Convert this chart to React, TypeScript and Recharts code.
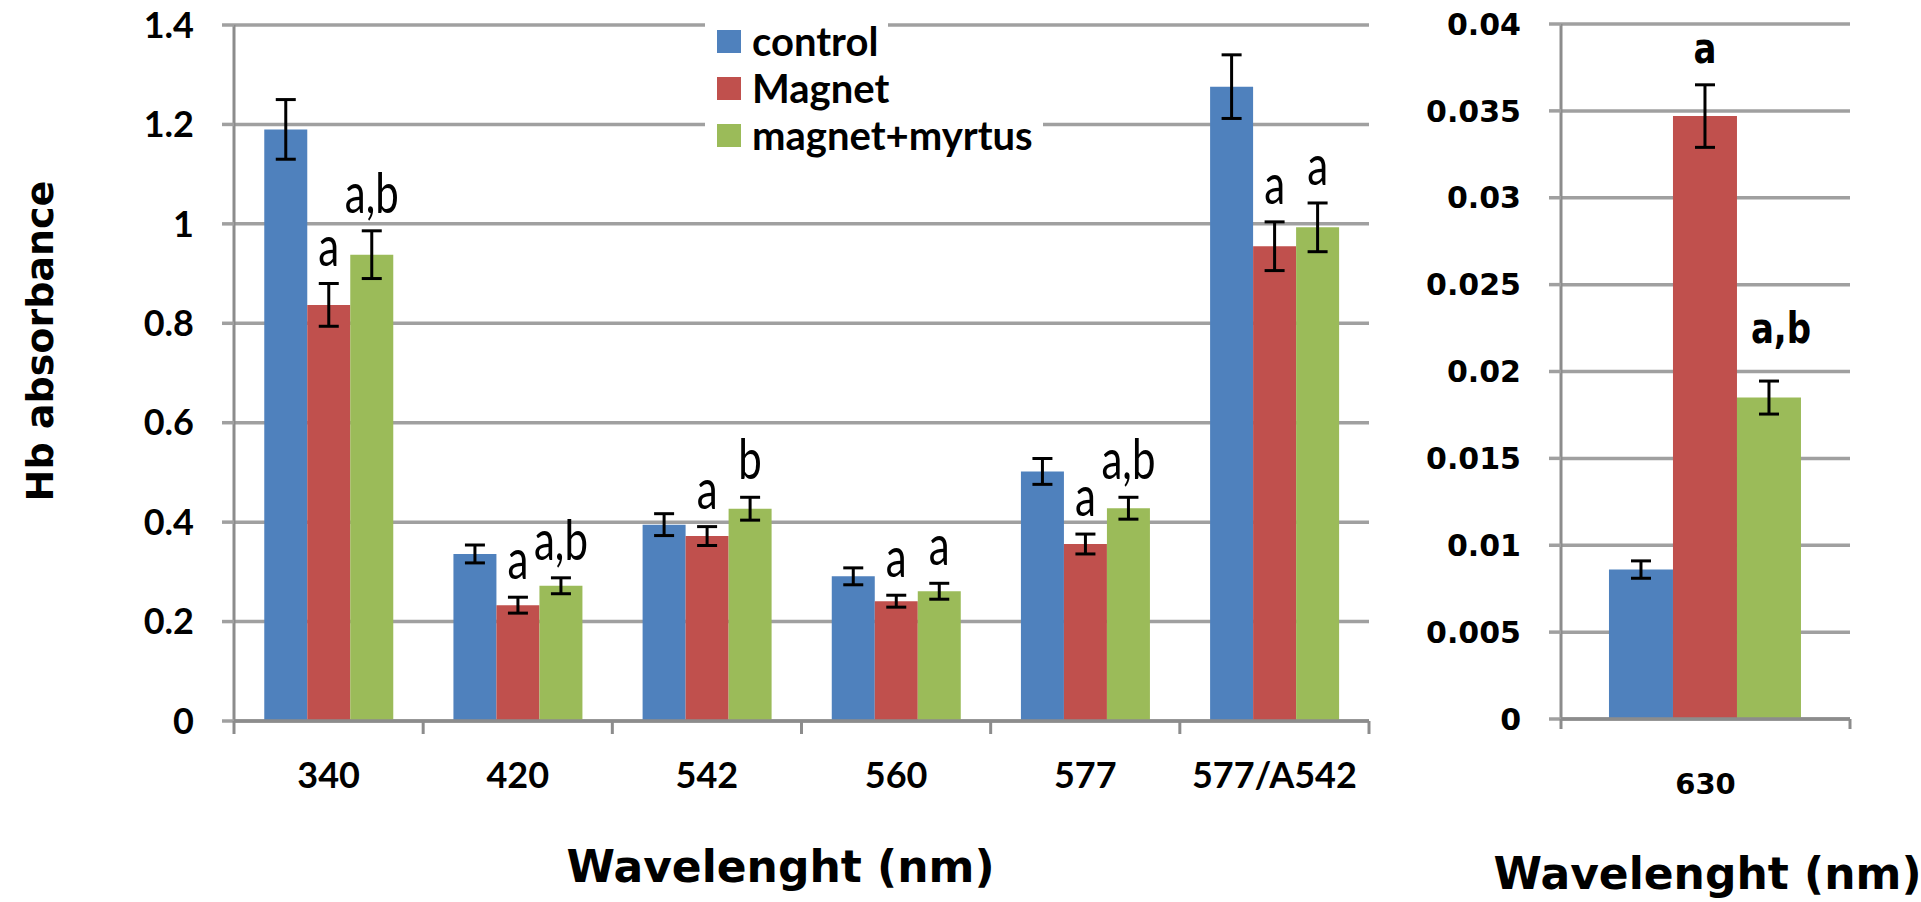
import React from "react";
import {
  Bar,
  BarChart,
  CartesianGrid,
  ErrorBar,
  Legend,
  XAxis,
  YAxis,
} from "recharts";

// ---- data: main panel ----
const categories = ["340", "420", "542", "560", "577", "577/A542"];
const control = [1.19, 0.336, 0.395, 0.291, 0.502, 1.276];
const controlErr = [0.06, 0.018, 0.022, 0.017, 0.026, 0.064];
const magnet = [0.837, 0.233, 0.372, 0.241, 0.356, 0.955];
const magnetErr = [0.043, 0.016, 0.019, 0.012, 0.02, 0.049];
const myrtus = [0.938, 0.272, 0.427, 0.261, 0.428, 0.993];
const myrtusErr = [0.048, 0.016, 0.023, 0.016, 0.022, 0.049];
const magnetSig = ["a", "a", "a", "a", "a", "a"];
const myrtusSig = ["a,b", "a,b", "b", "a", "a,b", "a"];
const leftTicks = [0, 0.2, 0.4, 0.6, 0.8, 1, 1.2, 1.4];
const leftTickLabels = ["0", "0.2", "0.4", "0.6", "0.8", "1", "1.2", "1.4"];

// ---- data: 630 nm panel ----
const categories630 = ["630"];
const control630 = [0.0086];
const control630Err = [0.0005];
const magnet630 = [0.0347];
const magnet630Err = [0.0018];
const myrtus630 = [0.0185];
const myrtus630Err = [0.00095];
const magnet630Sig = ["a"];
const myrtus630Sig = ["a,b"];
const rightTicks = [0, 0.005, 0.01, 0.015, 0.02, 0.025, 0.03, 0.035, 0.04];
const rightTickLabels = ["0", "0.005", "0.01", "0.015", "0.02", "0.025", "0.03", "0.035", "0.04"];

const SERIES = ["control", "Magnet", "magnet+myrtus"];
const BLUE = "#4F81BD";
const RED = "#C0504D";
const GREEN = "#9BBB59";
const GRID = "#a0a0a0";
const AXIS = "#8c8c8c";
const CAL = "Lato, 'Open Sans', sans-serif";
const VER = "'DejaVu Sans', Verdana, sans-serif";

const H = 902;
const LEFT_W = 1400;
const LEFT_MARGIN = { top: 25, right: 31, bottom: 0, left: 0 };
const LEFT_Y_W = 234;
const LEFT_X_H = 181;
const RIGHT_W = 521;
const RIGHT_MARGIN = { top: 24, right: 71, bottom: 0, left: 0 };
const RIGHT_Y_W = 161;
const RIGHT_X_H = 183;

const leftData = categories.map((c, i) => ({
  name: c,
  control: control[i],
  controlErr: controlErr[i],
  magnet: magnet[i],
  magnetErr: magnetErr[i],
  myrtus: myrtus[i],
  myrtusErr: myrtusErr[i],
}));

const rightData = categories630.map((c, i) => ({
  name: c,
  control: control630[i],
  controlErr: control630Err[i],
  magnet: magnet630[i],
  magnetErr: magnet630Err[i],
  myrtus: myrtus630[i],
  myrtusErr: myrtus630Err[i],
}));

// boundary tick marks + centred category label
function categoryTick(band: number, count: number, drop: number, textDy: number, font: any) {
  return (props: any) => {
    const { x, y, payload, index } = props;
    return (
      <g>
        <line x1={x - band / 2} x2={x - band / 2} y1={y} y2={y + drop} stroke={AXIS} strokeWidth={3} />
        {index === count - 1 && (
          <line x1={x + band / 2} x2={x + band / 2} y1={y} y2={y + drop} stroke={AXIS} strokeWidth={3} />
        )}
        <text x={x} y={y + textDy} textAnchor="middle" fill="#000" {...font}>
          {payload.value}
        </text>
      </g>
    );
  };
}

// significance letters above the error bar
function sigLabel(labels: string[], values: number[], errs: number[], gap: number, font: any, stretch: number, dx = 0) {
  return (props: any) => {
    const { x, y, width, height, index } = props;
    const v = values[index];
    if (!labels[index] || !v) return null;
    const pxPerUnit = height / v;
    const base = y - errs[index] * pxPerUnit - gap;
    const cx = x + width / 2 + dx;
    return (
      <text
        transform={`translate(${cx},${base}) scale(1,${stretch})`}
        textAnchor="middle"
        fill="#000"
        {...font}
      >
        {labels[index]}
      </text>
    );
  };
}

function renderLegend(props: any) {
  const items = [...(props.payload || [])].sort(
    (a: any, b: any) => SERIES.indexOf(a.value) - SERIES.indexOf(b.value)
  );
  return (
    <div>
      {items.map((it: any) => (
        <div
          key={it.value}
          style={{
            display: "flex",
            alignItems: "center",
            background: "#fff",
            height: 47,
            width: "fit-content",
            paddingLeft: 12,
            paddingRight: 10,
          }}
        >
          <span style={{ width: 24, height: 23, background: it.color, display: "inline-block" }} />
          <span
            style={{
              marginLeft: 11,
              fontFamily: CAL,
              fontWeight: 700,
              fontSize: 40,
              color: "#000",
              lineHeight: "47px",
            }}
          >
            {it.value}
          </span>
        </div>
      ))}
    </div>
  );
}

const annFontLeft = { fontFamily: CAL, fontSize: 42, fontWeight: 400 };
const annFontRight = { fontFamily: VER, fontSize: 34, fontWeight: 700 };

export default function App() {
  const leftBand = (LEFT_W - LEFT_MARGIN.right - LEFT_Y_W) / categories.length;
  const rightBand = (RIGHT_W - RIGHT_MARGIN.right - RIGHT_Y_W) / categories630.length;

  return (
    <div
      style={{
        position: "absolute",
        left: 0,
        top: 0,
        width: 1921,
        height: H,
        background: "#fff",
        overflow: "hidden",
      }}
    >
      <div style={{ position: "absolute", left: 0, top: 0 }}>
        <BarChart
          width={LEFT_W}
          height={H}
          data={leftData}
          margin={LEFT_MARGIN}
          barCategoryGap="16%"
          barGap={0}
        >
          <CartesianGrid vertical={false} stroke={GRID} strokeWidth={3.5} />
          <XAxis
            dataKey="name"
            height={LEFT_X_H}
            axisLine={{ stroke: AXIS, strokeWidth: 3.5 }}
            tickLine={false}
            tickSize={0}
            tickMargin={0}
            interval={0}
            tick={categoryTick(leftBand, categories.length, 13, 67, {
              fontFamily: CAL,
              fontWeight: 700,
              fontSize: 36,
            })}
            label={{
              content: (p: any) => {
                const vb = p.viewBox;
                return (
                  <text
                    x={vb.x + vb.width / 2 - 21}
                    y={vb.y + 161}
                    textAnchor="middle"
                    fontFamily={VER}
                    fontWeight={700}
                    fontSize={44}
                    fill="#000"
                  >
                    Wavelenght (nm)
                  </text>
                );
              },
            }}
          />
          <YAxis
            width={LEFT_Y_W}
            domain={[0, 1.4]}
            ticks={leftTicks}
            interval={0}
            tickFormatter={(v: number) => leftTickLabels[leftTicks.indexOf(v)] ?? String(v)}
            axisLine={{ stroke: AXIS, strokeWidth: 3 }}
            tickLine={{ stroke: GRID, strokeWidth: 3.5 }}
            tickSize={12}
            tickMargin={28}
            tick={{ fontFamily: CAL, fontWeight: 700, fontSize: 36, fill: "#000" }}
            label={{
              content: (p: any) => {
                const vb = p.viewBox;
                const cy = vb.y + vb.height / 2 - 32;
                return (
                  <text
                    transform={`translate(${vb.x + 53},${cy}) rotate(-90)`}
                    textAnchor="middle"
                    fontFamily={VER}
                    fontWeight={700}
                    fontSize={38}
                    fill="#000"
                  >
                    Hb absorbance
                  </text>
                );
              },
            }}
          />
          <Legend
            layout="horizontal"
            verticalAlign="middle"
            align="center"
            content={renderLegend}
            wrapperStyle={{ left: 705, top: 18, width: "auto", height: "auto" }}
          />
          <Bar dataKey="control" name={SERIES[0]} fill={BLUE} isAnimationActive={false}>
            <ErrorBar dataKey="controlErr" width={10} strokeWidth={3} stroke="#000" direction="y" isAnimationActive={false} />
          </Bar>
          <Bar
            dataKey="magnet"
            name={SERIES[1]}
            fill={RED}
            isAnimationActive={false}
            label={sigLabel(magnetSig, magnet, magnetErr, 18, annFontLeft, 1.35)}
          >
            <ErrorBar dataKey="magnetErr" width={10} strokeWidth={3} stroke="#000" direction="y" isAnimationActive={false} />
          </Bar>
          <Bar
            dataKey="myrtus"
            name={SERIES[2]}
            fill={GREEN}
            isAnimationActive={false}
            label={sigLabel(myrtusSig, myrtus, myrtusErr, 18, annFontLeft, 1.35)}
          >
            <ErrorBar dataKey="myrtusErr" width={10} strokeWidth={3} stroke="#000" direction="y" isAnimationActive={false} />
          </Bar>
        </BarChart>
      </div>

      <div style={{ position: "absolute", left: LEFT_W, top: 0 }}>
        <BarChart
          width={RIGHT_W}
          height={H}
          data={rightData}
          margin={RIGHT_MARGIN}
          barCategoryGap="16.6%"
          barGap={0}
        >
          <CartesianGrid vertical={false} stroke={GRID} strokeWidth={3.5} />
          <XAxis
            dataKey="name"
            height={RIGHT_X_H}
            axisLine={{ stroke: AXIS, strokeWidth: 3.5 }}
            tickLine={false}
            tickSize={0}
            tickMargin={0}
            interval={0}
            tick={categoryTick(rightBand, categories630.length, 10, 75, {
              fontFamily: VER,
              fontWeight: 700,
              fontSize: 29,
            })}
            label={{
              content: (p: any) => {
                const vb = p.viewBox;
                return (
                  <text
                    x={vb.x + vb.width / 2 + 2}
                    y={vb.y + 170}
                    textAnchor="middle"
                    fontFamily={VER}
                    fontWeight={700}
                    fontSize={44}
                    fill="#000"
                  >
                    Wavelenght (nm)
                  </text>
                );
              },
            }}
          />
          <YAxis
            width={RIGHT_Y_W}
            domain={[0, 0.04]}
            ticks={rightTicks}
            interval={0}
            tickFormatter={(v: number) => rightTickLabels[rightTicks.indexOf(v)] ?? String(v)}
            axisLine={{ stroke: AXIS, strokeWidth: 3 }}
            tickLine={{ stroke: GRID, strokeWidth: 3.5 }}
            tickSize={12}
            tickMargin={28}
            tick={{ fontFamily: VER, fontWeight: 700, fontSize: 30, fill: "#000" }}
          />
          <Bar dataKey="control" name={SERIES[0]} fill={BLUE} isAnimationActive={false}>
            <ErrorBar dataKey="controlErr" width={10} strokeWidth={3} stroke="#000" direction="y" isAnimationActive={false} />
          </Bar>
          <Bar
            dataKey="magnet"
            name={SERIES[1]}
            fill={RED}
            isAnimationActive={false}
            label={sigLabel(magnet630Sig, magnet630, magnet630Err, 22, annFontRight, 1.25)}
          >
            <ErrorBar dataKey="magnetErr" width={10} strokeWidth={3} stroke="#000" direction="y" isAnimationActive={false} />
          </Bar>
          <Bar
            dataKey="myrtus"
            name={SERIES[2]}
            fill={GREEN}
            isAnimationActive={false}
            label={sigLabel(myrtus630Sig, myrtus630, myrtus630Err, 38, annFontRight, 1.25, 12)}
          >
            <ErrorBar dataKey="myrtusErr" width={10} strokeWidth={3} stroke="#000" direction="y" isAnimationActive={false} />
          </Bar>
        </BarChart>
      </div>
    </div>
  );
}
